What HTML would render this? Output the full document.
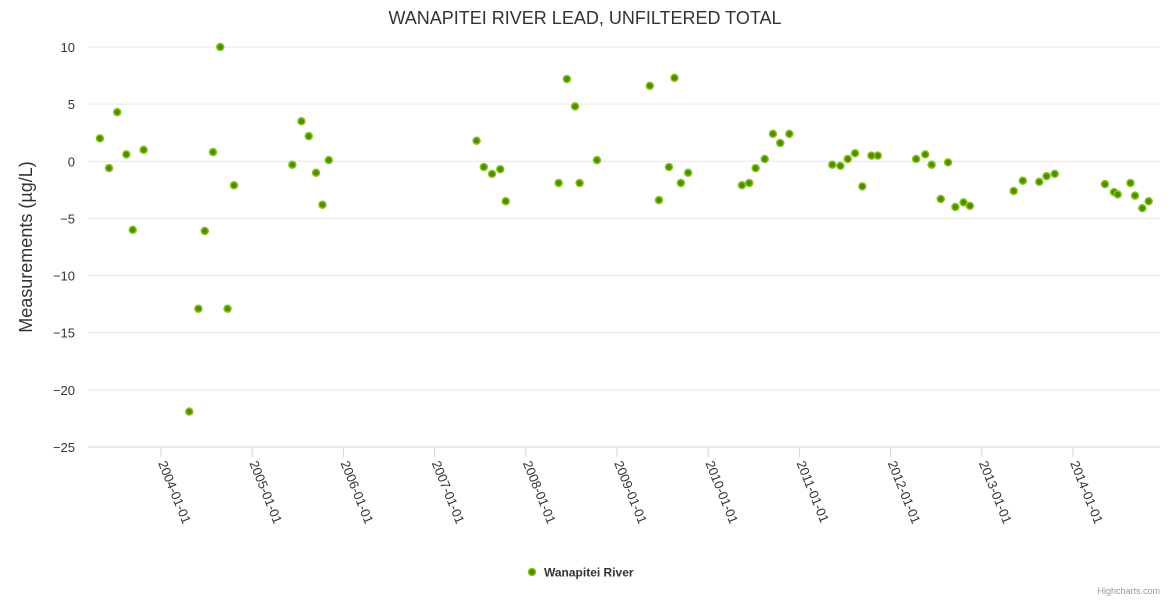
<!DOCTYPE html>
<html><head><meta charset="utf-8"><style>
body{margin:0;background:#fff;font-family:"Liberation Sans",sans-serif}
svg{display:block}
</style></head><body>
<svg id="chart" width="1170" height="600">
<text x="585" y="24" text-anchor="middle" font-size="18" fill="#333">WANAPITEI RIVER LEAD, UNFILTERED TOTAL</text>
<text transform="translate(32,247) rotate(-90)" text-anchor="middle" font-size="18" fill="#333">Measurements (µg/L)</text>
<g id="grid"></g><g id="xaxis"></g><g id="pts"></g>
<g>
<circle cx="532" cy="572" r="3.5" fill="#4b8f00" stroke="#8cc21f" stroke-width="1.5"/>
<text x="544" y="576.5" font-size="12" font-weight="bold" fill="#333">Wanapitei River</text>
</g>
<text x="1160" y="594" text-anchor="end" font-size="9" fill="#999">Highcharts.com</text>
</svg>
<script>
const years=[2003.33,2003.43,2003.52,2003.62,2003.69,2003.81,2004.31,2004.41,2004.48,2004.57,2004.65,2004.73,2004.80,2005.44,2005.54,2005.62,2005.70,2005.77,2005.84,2007.46,2007.54,2007.63,2007.72,2007.78,2008.36,2008.45,2008.54,2008.59,2008.78,2009.36,2009.46,2009.57,2009.63,2009.70,2009.78,2010.37,2010.45,2010.52,2010.62,2010.71,2010.79,2010.89,2011.36,2011.45,2011.53,2011.61,2011.69,2011.79,2011.86,2012.28,2012.38,2012.45,2012.55,2012.63,2012.71,2012.80,2012.87,2013.35,2013.45,2013.63,2013.71,2013.80,2014.35,2014.45,2014.49,2014.63,2014.68,2014.76,2014.83];
const values=[2.0,-0.6,4.3,0.6,-6.0,1.0,-21.9,-12.9,-6.1,0.8,10.0,-12.9,-2.1,-0.3,3.5,2.2,-1.0,-3.8,0.1,1.8,-0.5,-1.1,-0.7,-3.5,-1.9,7.2,4.8,-1.9,0.1,6.6,-3.4,-0.5,7.3,-1.9,-1.0,-2.1,-1.9,-0.6,0.2,2.4,1.6,2.4,-0.3,-0.4,0.2,0.7,-2.2,0.5,0.5,0.2,0.6,-0.3,-3.3,-0.1,-4.0,-3.6,-3.9,-2.6,-1.7,-1.8,-1.3,-1.1,-2.0,-2.7,-2.9,-1.9,-3.0,-4.1,-3.5];
const yTicks=[10,5,0,-5,-10,-15,-20,-25];
const xTicks=["2004-01-01","2005-01-01","2006-01-01","2007-01-01","2008-01-01","2009-01-01","2010-01-01","2011-01-01","2012-01-01","2013-01-01","2014-01-01"];
const NS="http://www.w3.org/2000/svg";
const X0=88,X1=1160;
function xs(y){return 161+(y-2004)*91.2;}
function ys(v){return 47+(10-v)*400/35;}
function mk(t,a,p){const e=document.createElementNS(NS,t);for(const k in a)e.setAttribute(k,a[k]);p.appendChild(e);return e;}
const g=document.getElementById('grid');
yTicks.forEach(v=>{
 const l=mk('line',{x1:X0,x2:X1,y1:ys(v),y2:ys(v),stroke:v===-25?'#ccd6eb':'#e6e6e6','stroke-width':1},g);
 
 
 const t=mk('text',{x:75,y:ys(v)+5,'text-anchor':'end','font-size':13,fill:'#333'},g);
 t.textContent=v<0?'\u2212'+Math.abs(v):String(v);
 
 
});
const xa=document.getElementById('xaxis');
xTicks.forEach(s=>{
 const yr=parseInt(s.slice(0,4));const x=xs(yr);
 const l=mk('line',{x1:x,x2:x,y1:447,y2:457,stroke:'#ccd6eb'},xa);
 
 
 const t=mk('text',{x:0,y:0,'font-size':13,fill:'#333',transform:`translate(${x-3},${463}) rotate(68)`},xa);
 t.textContent=s;
 
 
});
const pg=document.getElementById('pts');
years.forEach((yr,i)=>{
 const c=mk('circle',{cx:xs(yr),cy:ys(values[i]),r:3.5,fill:'#4b8f00',stroke:'#8cc21f','stroke-width':1.5},pg);
 
 
});
</script>
</body></html>
